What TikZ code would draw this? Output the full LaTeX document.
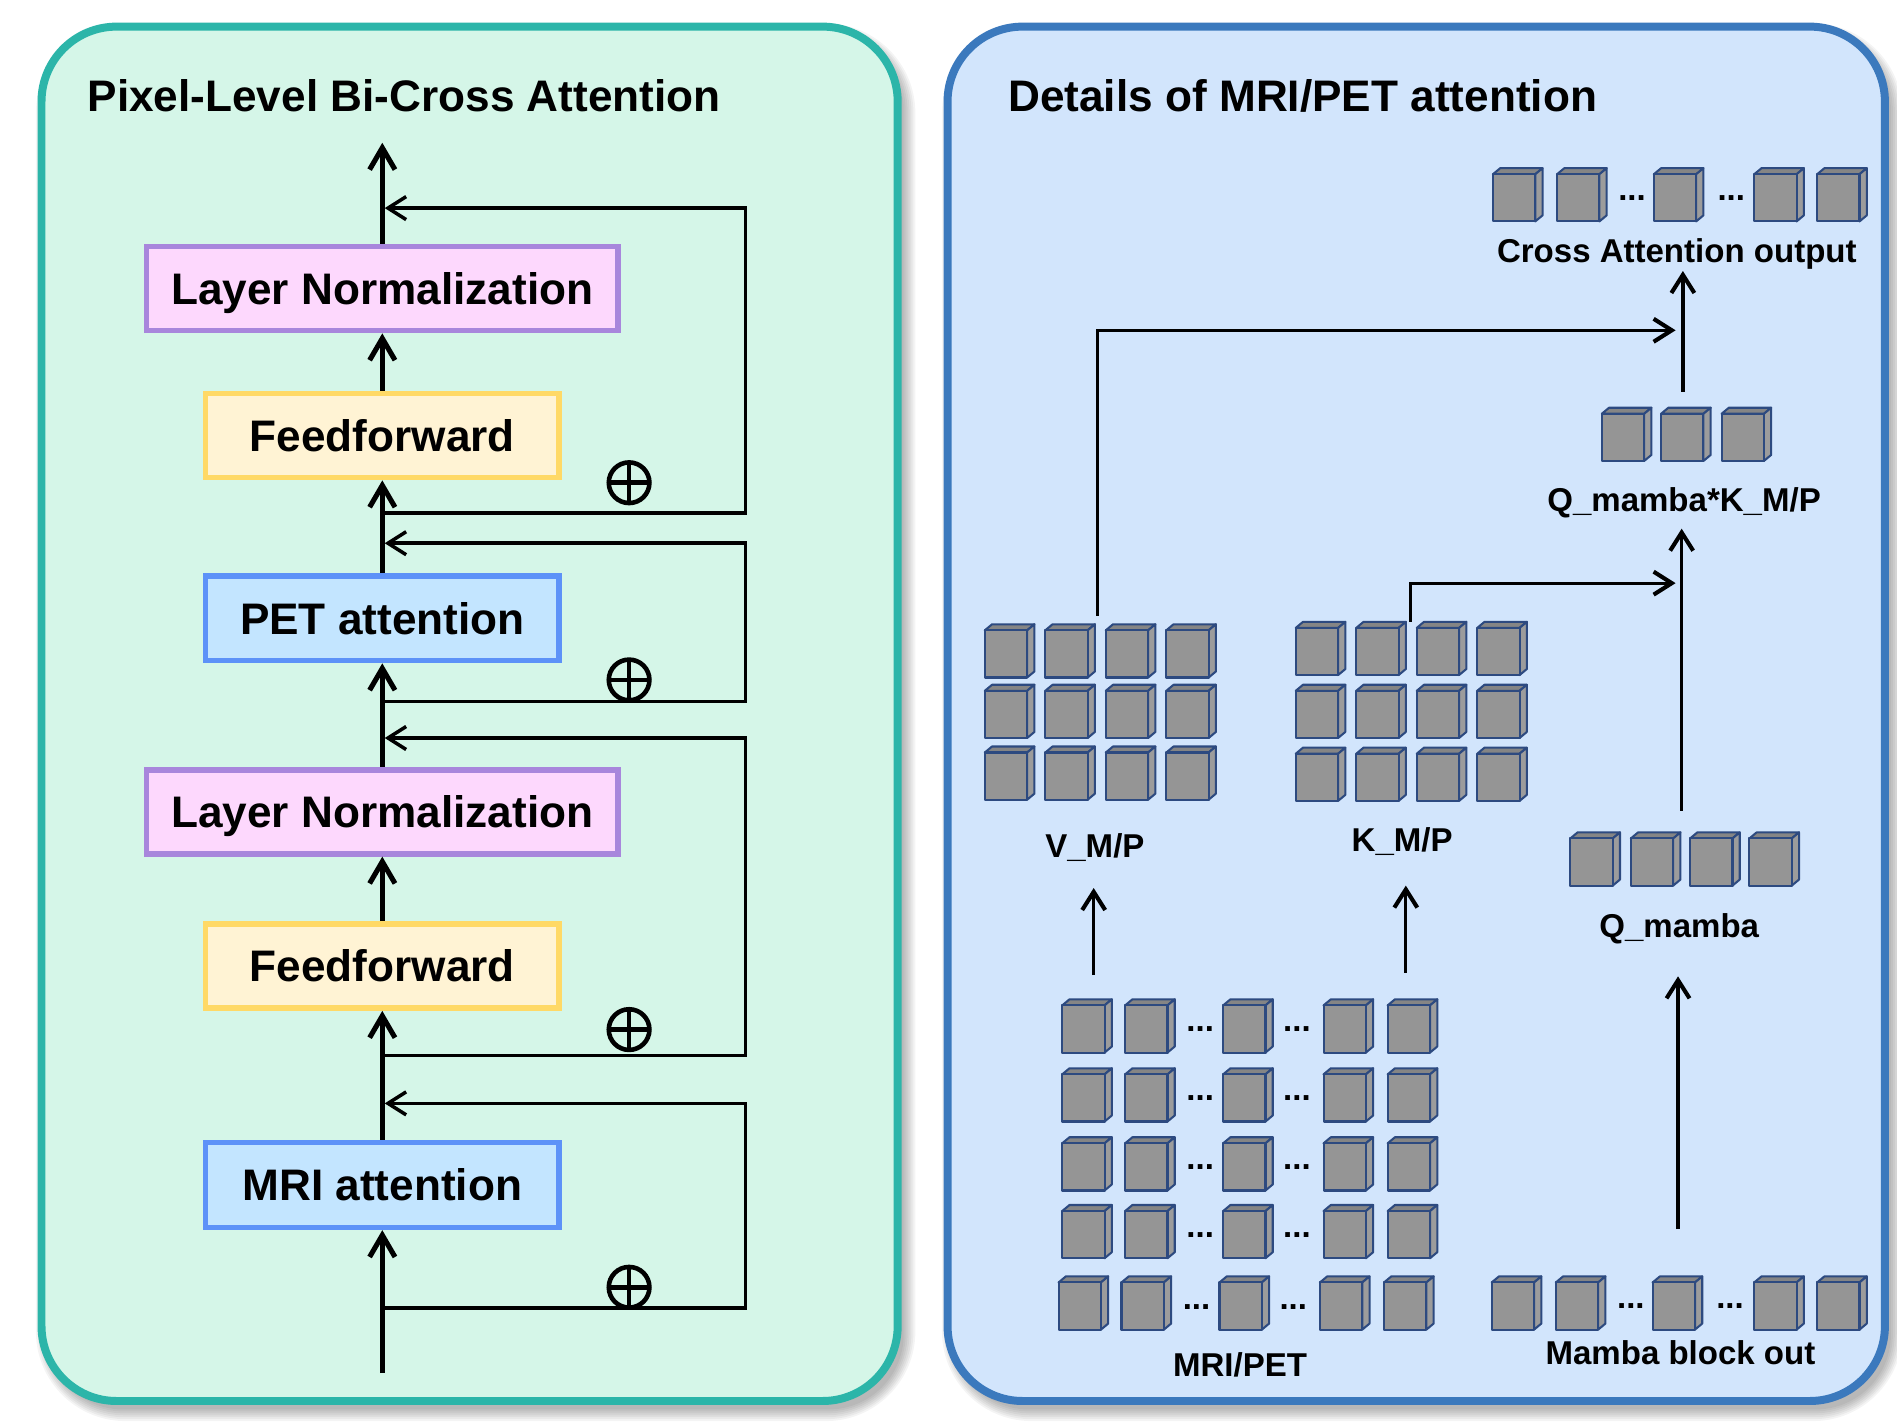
\documentclass[tikz,border=0pt]{standalone}
\usepackage{fontspec}
\setmainfont{Liberation Sans}
\usetikzlibrary{arrows.meta,calc}
\definecolor{mintfill}{HTML}{D5F6E8}
\definecolor{mintborder}{HTML}{2CB5A9}
\definecolor{bluefill}{HTML}{D2E5FC}
\definecolor{blueborder}{HTML}{3B79BD}
\definecolor{lnfill}{HTML}{FDD8FD}
\definecolor{lnborder}{HTML}{A886DC}
\definecolor{fffill}{HTML}{FFF3D4}
\definecolor{ffborder}{HTML}{FFD966}
\definecolor{atfill}{HTML}{C3E5FF}
\definecolor{atborder}{HTML}{5D92F8}
\definecolor{cubefront}{HTML}{959595}
\definecolor{cubetop}{HTML}{858585}
\definecolor{cubeside}{HTML}{9C9C9C}
\definecolor{cubeedge}{HTML}{2D4A80}

\tikzset{
  bigfont/.style={font=\fontsize{18.25}{22}\selectfont\bfseries},
  smallfont/.style={font=\fontsize{13.65}{16}\selectfont\bfseries},
  blockbox/.style={draw, line width=2.3pt, bigfont, inner sep=0pt,
    text height=13.1pt, text depth=0pt, anchor=center},
  lnbox/.style={blockbox, fill=lnfill, draw=lnborder, minimum width=195pt, minimum height=34.75pt},
  ffbox/.style={blockbox, fill=fffill, draw=ffborder, minimum width=146pt, minimum height=34.75pt},
  atbox/.style={blockbox, fill=atfill, draw=atborder, minimum width=146pt, minimum height=35pt},
  mainarrow/.style={line width=2.1pt, -{Straight Barb[length=9pt,width=10.5pt]}},
  mainline/.style={line width=2.1pt},
  looparrow/.style={line width=1.45pt, -{Straight Barb[length=7.5pt,width=9.5pt]}},
  rarrow/.style={line width=1.35pt, -{Straight Barb[length=7.5pt,width=9.5pt,line width=1.7pt]}},
  plusc/.style={circle, draw, line width=1.9pt, minimum size=16.8pt, inner sep=0pt,
    path picture={\draw[line width=1.9pt] (path picture bounding box.north) -- (path picture bounding box.south)
      (path picture bounding box.west) -- (path picture bounding box.east);}},
  cubeface/.style={draw=cubeedge, line width=0.85pt, line join=round},
  lbl/.style={smallfont, anchor=base, inner sep=0pt},
  dotsty/.style={smallfont, anchor=base, inner sep=0pt},
  titlesty/.style={bigfont, anchor=base west, inner sep=0pt},
}

\newcommand{\mycube}[2]{%
  \begin{scope}[shift={(#1,#2)}]
    \filldraw[cubeface, fill=cubetop] (0,5) -- (6,0) -- (41,0) -- (35,5) -- cycle;
    \filldraw[cubeface, fill=cubeside] (35,5) -- (41,0) -- (41,39) -- (35,44) -- cycle;
    \filldraw[cubeface, fill=cubefront] (0,5) rectangle (35,44);
  \end{scope}}

\newcommand{\softshadow}[4]{%
  \foreach \k in {0,...,6}{
    \fill[black, opacity=0.045, rounded corners=31pt+\k*1pt]
      (#1+5-\k*1.6, #2+7-\k*1.6) rectangle (#3+5+\k*1.6, #4+7+\k*1.6);
  }}

\begin{document}
\begin{tikzpicture}[x=0.5pt, y=-0.5pt]
\useasboundingbox (0,0) rectangle (1568,1179.5);
\fill[white] (0,0) rectangle (1568,1179.5);

% ---------- panels ----------
\softshadow{34.3}{22}{742}{1158}
\softshadow{783.2}{22}{1558}{1158}
\path[fill=mintfill, draw=mintborder, line width=3.3pt, rounded corners=31pt]
  (34.3,22) rectangle (742,1158);
\path[fill=bluefill, draw=blueborder, line width=3.3pt, rounded corners=31pt]
  (783.2,22) rectangle (1558,1158);

\node[titlesty] (tleft) at (72,92) {Pixel-Level Bi-Cross Attention};
\node[titlesty] (tright) at (833,92) {Details of MRI/PET attention};

% ---------- left column ----------
\node[lnbox] (ln1) at (316,238.5) {Layer Normalization};
\node[ffbox] (ff1) at (316,360) {Feedforward};
\node[atbox] (pet) at (316,511) {PET attention};
\node[lnbox] (ln2) at (316,671) {Layer Normalization};
\node[ffbox] (ff2) at (316,798.5) {Feedforward};
\node[atbox] (mri) at (316,979.5) {MRI attention};

\coordinate (in) at (316,1135);
\coordinate (out) at (316,118);
\coordinate (loopx) at (616,0);
\coordinate (j1) at (316,424);
\coordinate (e1) at (318,172);
\coordinate (j2) at (316,580);
\coordinate (e2) at (318,449);
\coordinate (j3) at (316,872.5);
\coordinate (e3) at (318,610);
\coordinate (j4) at (316,1081);
\coordinate (e4) at (318,912);

\draw[mainarrow] (in) -- (mri.south);
\draw[mainarrow] (mri.north) -- (ff2.south);
\draw[mainarrow] (ff2.north) -- (ln2.south);
\draw[mainarrow] (ln2.north) -- (pet.south);
\draw[mainarrow] (pet.north) -- (ff1.south);
\draw[mainarrow] (ff1.north) -- (ln1.south);
\draw[mainarrow] (ln1.north) -- (out);

\draw[looparrow] (j1) -- (j1 -| loopx) |- (e1);
\draw[looparrow] (j2) -- (j2 -| loopx) |- (e2);
\draw[looparrow] (j3) -- (j3 -| loopx) |- (e3);
\draw[looparrow] (j4) -- (j4 -| loopx) |- (e4);

\node[plusc] (p1) at (520,399) {};
\node[plusc] (p2) at (520,562) {};
\node[plusc] (p3) at (520,851) {};
\node[plusc] (p4) at (520,1064) {};

% ---------- right panel: cubes ----------
% cross attention output
\foreach \xx in {1234,1287,1367,1450,1502} {\mycube{\xx}{139}}
\node[dotsty] (cod1) at (1349,165.5) {...};
\node[dotsty] (cod2) at (1431,165.5) {...};
\node[lbl] (colbl) at (1386,217) {Cross Attention output};

% Q*K
\foreach \xx in {1324,1373,1423} {\mycube{\xx}{337}}
\node[lbl] (qklbl) at (1392,423) {Q\_mamba*K\_M/P};

% V grid
\foreach \yy in {516,566,617} {\foreach \xx in {814,864,914,964} {\mycube{\xx}{\yy}}}
\node[lbl] (vlbl) at (905,709) {V\_M/P};

% K grid
\foreach \yy in {514,566,618} {\foreach \xx in {1071,1121,1171,1221} {\mycube{\xx}{\yy}}}
\node[lbl] (klbl) at (1159,704) {K\_M/P};

% Q mamba
\foreach \xx in {1298,1348,1397,1446} {\mycube{\xx}{688}}
\node[lbl] (qmlbl) at (1388,774.5) {Q\_mamba};

% MRI/PET grid
\foreach \r/\yy/\sh in {1/826/0, 2/883/0, 3/940/0, 4/996/0, 5/1055/-3} {
  \foreach \xx in {878,930,1011,1094,1147} {\mycube{\xx+\sh}{\yy}}
  \node[dotsty] (mpd\r a) at (992+\sh,\yy+27) {...};
  \node[dotsty] (mpd\r b) at (1072+\sh,\yy+27) {...};
}
\node[lbl] (mplbl) at (1025,1137.5) {MRI/PET};

% Mamba block out
\foreach \xx in {1233,1286,1366,1450,1502} {\mycube{\xx}{1055}}
\node[dotsty] (mbd1) at (1348,1081.5) {...};
\node[dotsty] (mbd2) at (1430,1081.5) {...};
\node[lbl] (mblbl) at (1389,1128) {Mamba block out};

% ---------- right panel: arrows ----------
\coordinate (vsrc) at (904,806);
\coordinate (vdst) at (904,734);
\coordinate (ksrc) at (1162,804);
\coordinate (kdst) at (1162,732);
\coordinate (msrc) at (1387,1016);
\coordinate (mdst) at (1387,807);
\coordinate (qsrc) at (1390,670);
\coordinate (qdst) at (1390,437);
\coordinate (ktop) at (1166,514);
\coordinate (kin) at (1385,482);
\coordinate (vtop) at (907,509);
\coordinate (vin) at (1385,273);
\coordinate (qksrc) at (1391,324);
\coordinate (qkdst) at (1391,224);

\draw[rarrow] (vsrc) -- (vdst);
\draw[rarrow] (ksrc) -- (kdst);
\draw[rarrow] (msrc) -- (mdst);
\draw[rarrow] (qsrc) -- (qdst);
\draw[rarrow] (ktop) |- (kin);
\draw[rarrow] (vtop) |- (vin);
\draw[rarrow] (qksrc) -- (qkdst);
\end{tikzpicture}
\end{document}
